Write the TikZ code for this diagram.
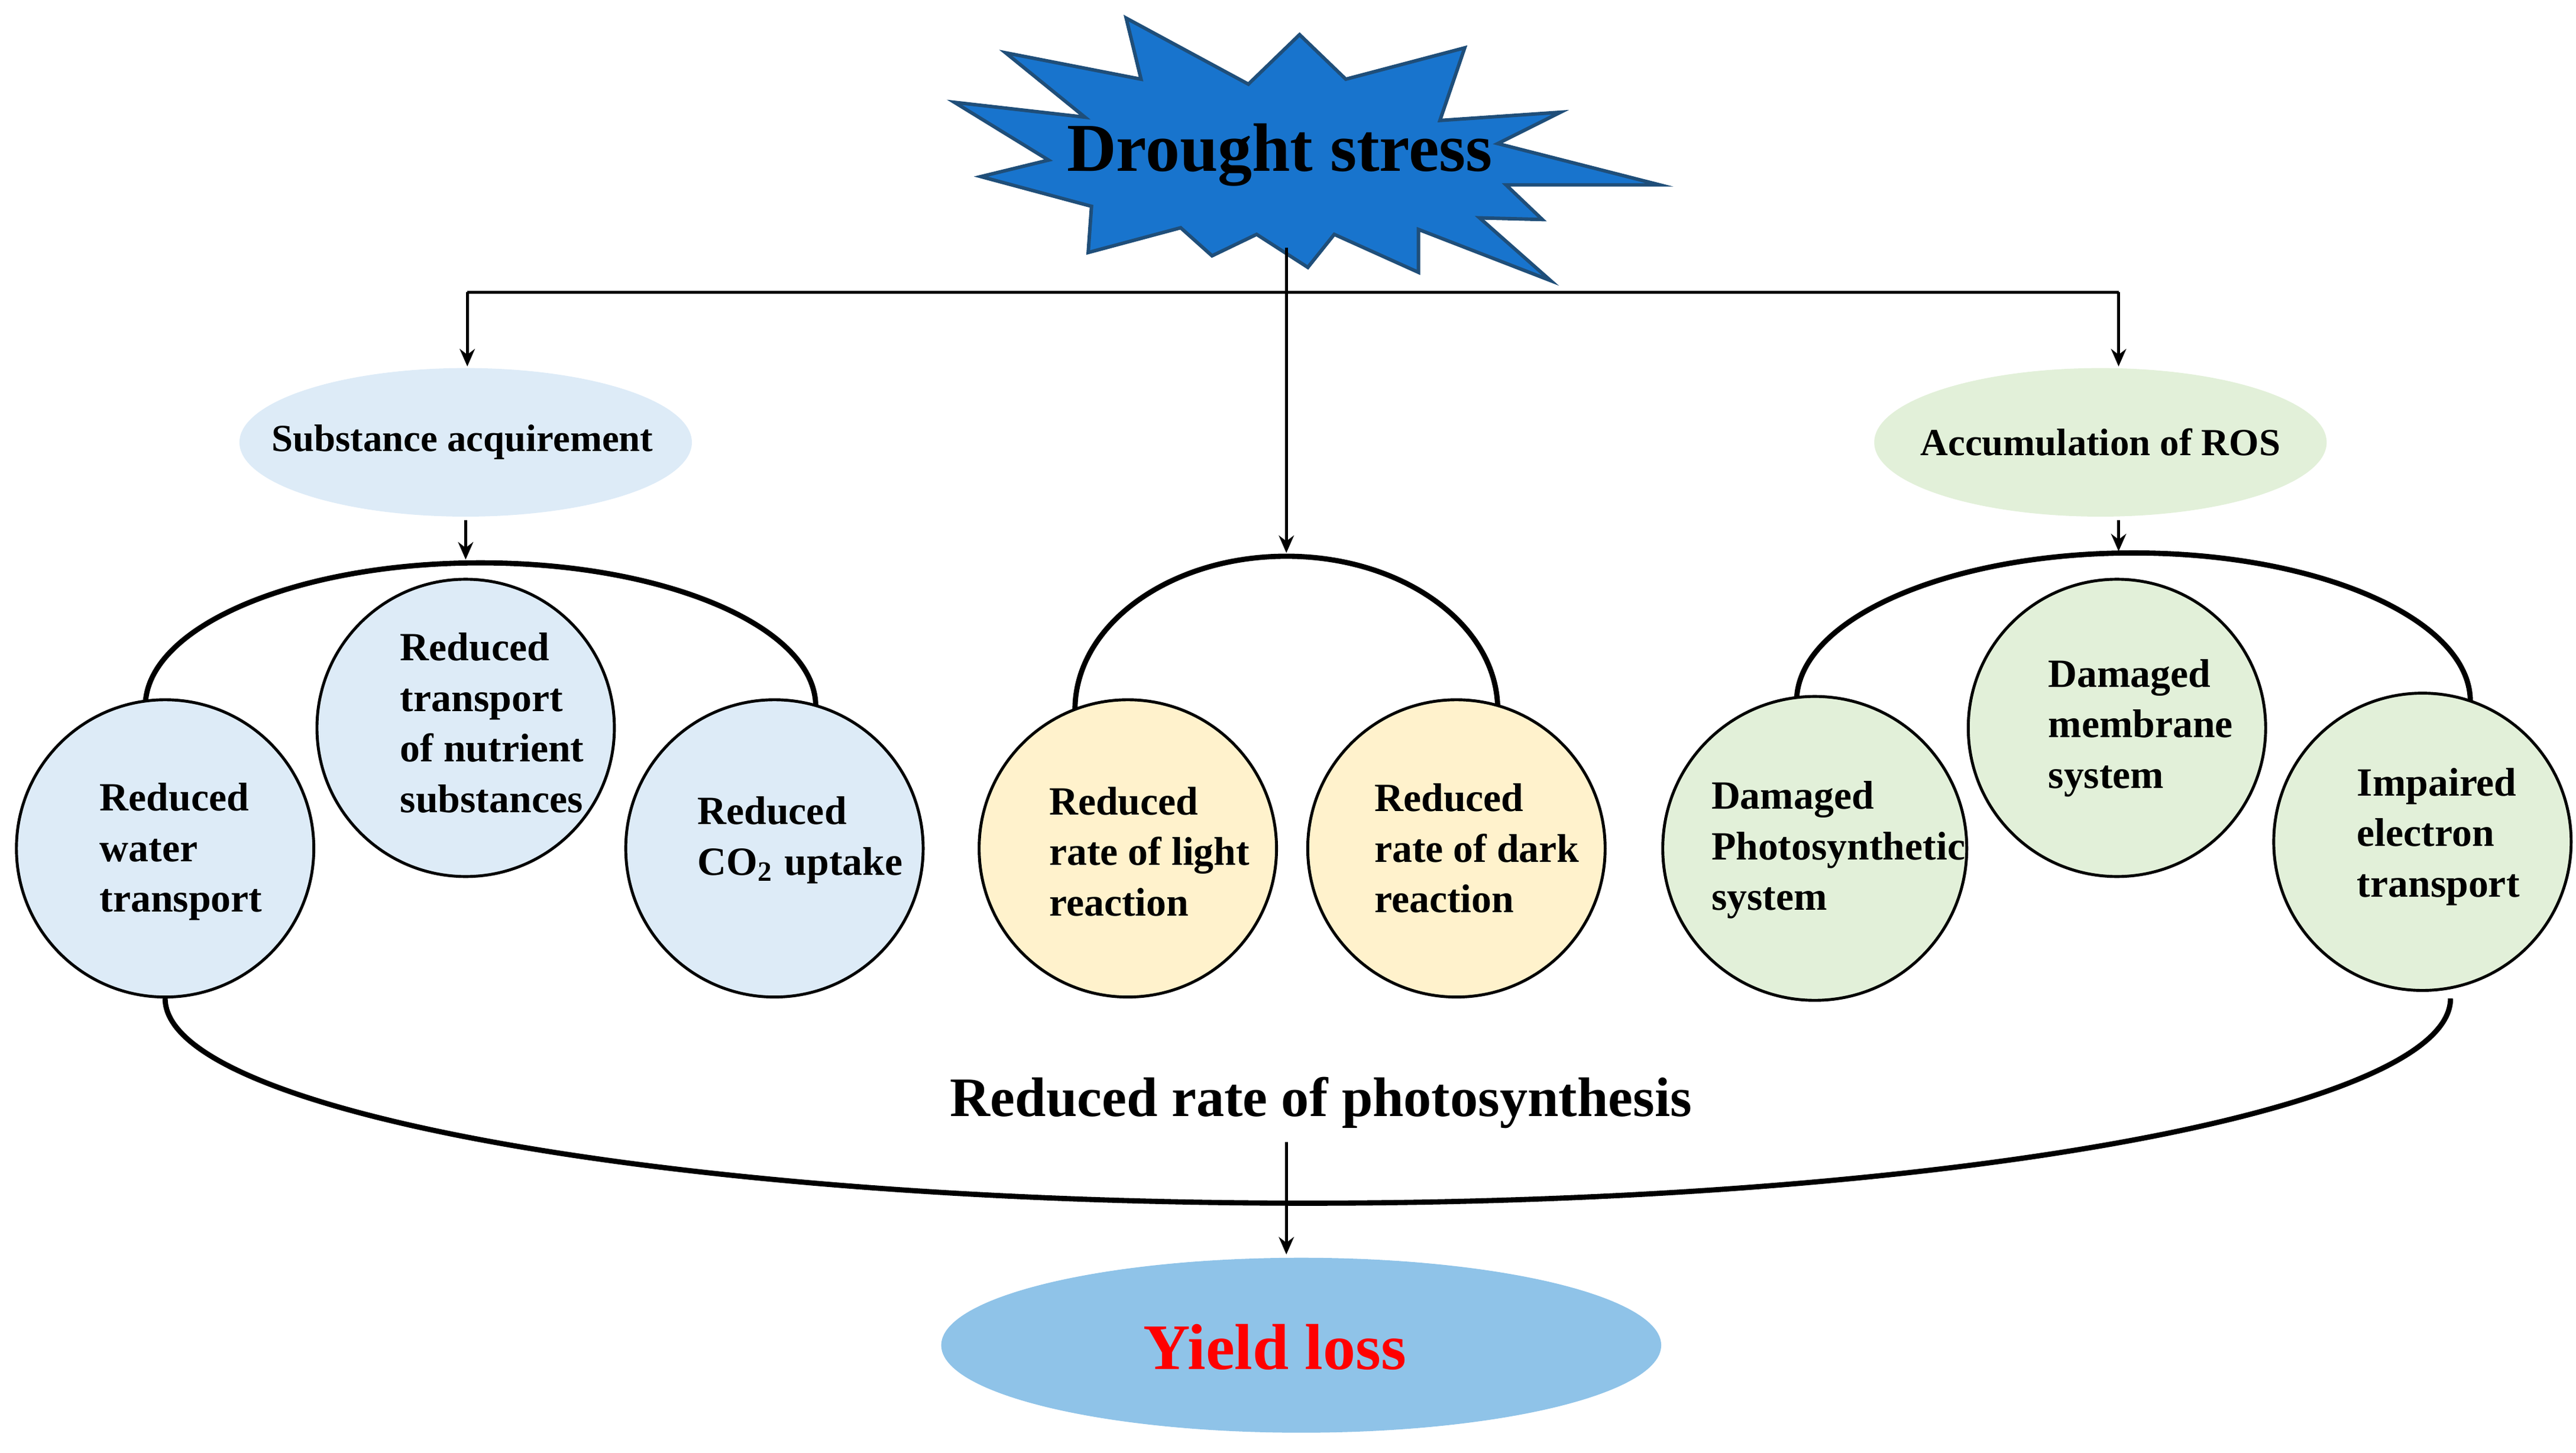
\documentclass[tikz,border=0pt]{standalone}
\usepackage{fontspec}
\setmainfont{Liberation Serif}
\usetikzlibrary{arrows.meta,shapes.geometric}
\definecolor{starblue}{HTML}{1874CD}
\definecolor{starline}{HTML}{1F4E79}
\definecolor{lblue}{HTML}{DDEBF7}
\definecolor{lgreen}{HTML}{E2F0D9}
\definecolor{lyellow}{HTML}{FFF2CC}
\definecolor{yblue}{HTML}{8FC3E8}
\begin{document}
\begin{tikzpicture}[x=0.01cm,y=-0.01cm,
  arr/.style={-{Stealth[length=3pt,width=2.6pt]},line width=0.5pt},
  arcl/.style={line width=0.9pt},
  circ/.style={circle,draw,line width=0.5pt,minimum size=1.8cm,inner sep=0pt},
  ctext/.style={align=left,font=\fontsize{6.9}{8.7}\selectfont\bfseries},
  otext/.style={font=\fontsize{6.6}{8}\selectfont\bfseries}]
\useasboundingbox (0,0) rectangle (1560,880);
% star
\draw[fill=starblue,draw=starline,line width=0.6pt]
 (682,11)--(691,48)--(609,32)--(657,71)--(578,62)--(635,97)--(594,107)--(661,125)--(659,153)--(715,138)--(734,155)--(761,142)--(792,162)--(808,142)--(859,165)--(859,139)--(939,170)--(896,132)--(934,133)--(912,112)--(1005,112)--(907,87)--(945,68)--(872,73)--(887,29)--(815,48)--(787,21)--(756,51)--cycle;
\node[font=\fontsize{11.8}{14}\selectfont\bfseries] (ds) at (775,94) {Drought stress};
% top distribution
\coordinate (st) at (779,150);
\coordinate (hl) at (283,177);
\coordinate (hr) at (1283,177);
\coordinate (hm) at (779,177);
\draw[line width=0.5pt] (hl)--(hr);
\draw[line width=0.5pt] (st)--(hm);
\fill[lblue] (282,268) ellipse[x radius=137,y radius=45];
\node[otext] (sa) at (280,268) {Substance acquirement};
\fill[lgreen] (1272,268) ellipse[x radius=137,y radius=45];
\node[otext] (ros) at (1272,268) {Accumulation of ROS};
\draw[arr] (hl)--(283,222);
\draw[arr] (hr)--(1283,222);
\coordinate (ctop) at (779,335);
\draw[arr] (hm)--(ctop);
\draw[arr] (282,315)--(282,339);
\draw[arr] (1283,315)--(1283,334);
% arcs
\draw[arcl] (88,428) arc[start angle=180,end angle=360,x radius=203,y radius=87];
\draw[arcl] (651,430) arc[start angle=180,end angle=360,x radius=128,y radius=93];
\draw[arcl] (1088,425) arc[start angle=180,end angle=360,x radius=204,y radius=90];
% circles
\node[circ,fill=lblue] (w) at (100,514) {};
\node[ctext,anchor=west] at (48,516) {Reduced\\water\\transport};
\node[circ,fill=lblue] (n) at (282,441) {};
\node[ctext,anchor=west] at (230,438) {Reduced\\transport\\of nutrient\\substances};
\node[circ,fill=lblue] (c) at (469,514) {};
\node[ctext,anchor=west] at (410,509) {Reduced\\CO\textsubscript{2} uptake};
\node[circ,fill=lyellow] (l) at (683,514) {};
\node[ctext,anchor=west] at (623,516) {Reduced\\rate of light\\reaction};
\node[circ,fill=lyellow] (d) at (882,514) {};
\node[ctext,anchor=west] at (820,514) {Reduced\\rate of dark\\reaction};
\node[circ,fill=lgreen,minimum size=1.84cm] (p) at (1099,514) {};
\node[ctext,anchor=west] at (1024,515) {Damaged\\Photosynthetic\\system};
\node[circ,fill=lgreen] (m) at (1282,441) {};
\node[ctext,anchor=west] at (1228,441) {Damaged\\membrane\\system};
\node[circ,fill=lgreen] (e) at (1467,510) {};
\node[ctext,anchor=west] at (1415,507) {Impaired\\electron\\transport};
% bottom
\draw[arcl] (w.south) arc[start angle=180,end angle=0,x radius=692,y radius=124];
\node[font=\fontsize{9.6}{12}\selectfont\bfseries] (rp) at (800,668) {Reduced rate of photosynthesis};
\fill[yblue] (788,815) ellipse[x radius=218,y radius=53];
\node[font=\fontsize{11.2}{13}\selectfont\bfseries,text=red] (y) at (772,816) {Yield loss};
\coordinate (ya) at (779,692);
\draw[arr] (ya)--(779,760);
\end{tikzpicture}
\end{document}
